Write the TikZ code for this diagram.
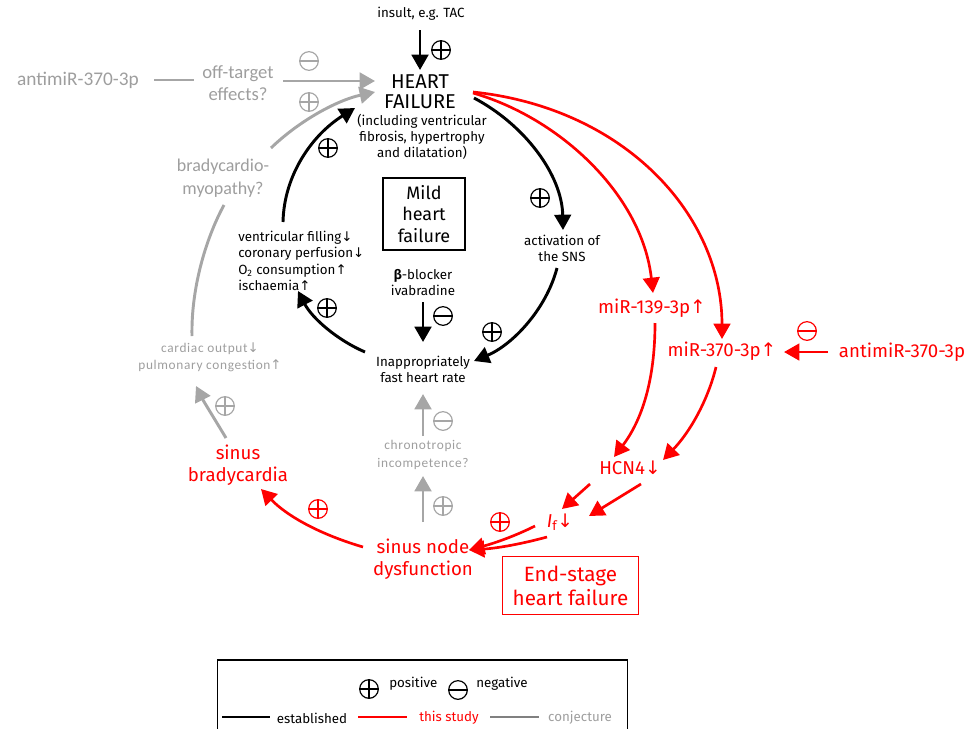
\documentclass[tikz,border=0pt]{standalone}
\usepackage{fontspec}
\setmainfont{Fira Sans}
\newfontfamily\dv{DejaVu Sans}
\newfontfamily\gf{Carlito}
\newfontfamily\gfs[LetterSpace=5]{Carlito}
\usetikzlibrary{arrows.meta}
\definecolor{gry}{HTML}{A6A6A6}
\definecolor{gtx}{HTML}{9E9E9E}
\definecolor{rd}{HTML}{FF0000}
\definecolor{lgy}{HTML}{808080}
\newcommand\fsz[2]{\fontsize{#1}{#2}\selectfont}
\newcommand\upa{{\dv ↑}}
\newcommand\dna{{\dv ↓}}
\begin{document}
\begin{tikzpicture}[x=0.75pt,y=0.75pt,
  txt/.style={inner sep=0pt, align=center},
  arw/.style={-{Triangle[length=11.5pt,width=12.5pt]}},
  blk/.style={line width=2.2pt, black},
  rdl/.style={line width=2pt, rd},
  gyl/.style={line width=2.2pt, gry},
  sgn/.style={circle, draw, line width=0.9pt, minimum size=14pt, inner sep=0pt},
  pl/.style={sgn, path picture={\draw[line width=0.9pt] (path picture bounding box.north)--(path picture bounding box.south) (path picture bounding box.west)--(path picture bounding box.east);}},
  mn/.style={sgn, path picture={\draw[line width=0.9pt] (path picture bounding box.west)--(path picture bounding box.east);}},
  sm/.style={font=\fsz{10}{12}},
  rtx/.style={txt, rd, font=\fsz{14}{16.5}},
  gbig/.style={txt, gtx, font=\gf\fsz{14}{17}},
  gsm/.style={txt, gtx, font=\gfs\fsz{10}{13}}
]
\useasboundingbox (0,0) rectangle (969,-728);

% ---------- black text nodes
\node[txt, sm] (ins) at (421,-14) {insult, e.g. TAC};
\node[txt, font=\fsz{15}{15}] (hf) at (420,-92) {HEART\\FAILURE};
\node[txt, sm] (hfs) at (422,-137) {(including ventricular\\fibrosis, hypertrophy\\and dilatation)};
\node[draw, line width=0.8pt, minimum width=61.5pt, minimum height=54pt, txt, font=\fsz{13.5}{16}] (mhf) at (424,-214) {Mild\\heart\\failure};
\node[txt, sm] (sns) at (562,-248) {activation of\\the SNS};
\node[txt, sm] (bb) at (423,-283) {{\bfseries β}-blocker\\ivabradine};
\node[txt, sm] (ifhr) at (423,-369) {Inappropriately\\fast heart rate};
\node[txt, sm, align=left, anchor=west, font=\fsz{10}{12.4}] (vf) at (238,-261) {ventricular filling\dna\\coronary perfusion\dna\\O\textsubscript{2} consumption\upa\\ischaemia\upa};

% ---------- grey text nodes
\node[gbig, font=\gf\fsz{14.5}{17}] (antL) at (78,-80) {antimiR-370-3p};
\node[gbig] (ote) at (238,-83) {off-target\\effects?};
\node[gbig, font=\gf\fsz{13.5}{17}] (bcm) at (223,-178) {bradycardio-\\myopathy?};
\node[gsm] (co) at (210,-357) {cardiac output\dna\\pulmonary congestion\upa};
\node[gsm] (ci) at (423,-455) {chronotropic\\incompetence?};

% ---------- red text nodes
\node[rtx] (sb) at (238,-465) {sinus\\bradycardia};
\node[rtx] (snd) at (423,-559) {sinus node\\dysfunction};
\node[rtx] (m139) at (652,-308) {miR-139-3p\upa};
\node[rtx] (m370) at (722,-351) {miR-370-3p\upa};
\node[rtx] (antR) at (902,-352) {antimiR-370-3p};
\node[rtx] (hcn) at (630,-468) {HCN4\dna};
\node[rtx] (if) at (560,-522) {\textit{I}\textsubscript{f}\dna};
\node[draw=rd, line width=0.8pt, minimum width=102.5pt, minimum height=43pt, txt, rd, font=\fsz{15.5}{18}] (esh) at (570.5,-585.5) {End-stage\\heart failure};

% ---------- connector end points
\coordinate (insB) at (420,-30);   \coordinate (hfT) at (420,-70);
\coordinate (hfR1) at (474,-98);   \coordinate (snsT) at (563,-230);
\coordinate (snsB) at (557,-268);  \coordinate (ifhrR) at (474,-361);
\coordinate (ifhrL) at (365,-352); \coordinate (vfR) at (298,-291);
\coordinate (vfT) at (283,-222);   \coordinate (hfL) at (355,-108);
\coordinate (bbB) at (423,-302);   \coordinate (ifhrT) at (423,-342);
\coordinate (antLR) at (154,-80);  \coordinate (oteL) at (194,-80);
\coordinate (oteR) at (283,-81);   \coordinate (hfW1) at (375,-81);
\coordinate (bcmT) at (271,-148);  \coordinate (hfW2) at (375,-92);
\coordinate (bcmB) at (224,-205);  \coordinate (coT) at (192,-336);
\coordinate (sbT) at (226,-438);   \coordinate (coB) at (196,-386);
\coordinate (sndL) at (363,-547);  \coordinate (sbB) at (261,-489);
\coordinate (sndT) at (423,-522);  \coordinate (ciB) at (423,-476);
\coordinate (ciT) at (423,-436);   \coordinate (ifhrB) at (423,-394);
\coordinate (hfR2) at (473,-93);   \coordinate (m139T) at (653,-293);
\coordinate (hfR3) at (473,-92);   \coordinate (m370T) at (722,-339);
\coordinate (antRL) at (828,-352); \coordinate (m370R) at (784,-352);
\coordinate (m139B) at (655,-323); \coordinate (hcnT1) at (614,-457);
\coordinate (m370B) at (716,-367); \coordinate (hcnT2) at (663,-460);
\coordinate (hcnB1) at (590,-484); \coordinate (ifT1) at (562,-509);
\coordinate (hcnB2) at (641,-484); \coordinate (ifT2) at (589,-516);
\coordinate (ifL1) at (535,-526);  \coordinate (ifL2) at (547,-537);
\coordinate (sndR) at (469,-550);

% ---------- black connectors
\draw[blk, arw] (insB) -- (hfT);
\draw[blk, arw] (hfR1) .. controls (525,-125) and (562,-175) .. (snsT);
\draw[blk, arw] (snsB) .. controls (546,-310) and (512,-345) .. (ifhrR);
\draw[blk, arw] (ifhrL) .. controls (337,-340) and (312,-318) .. (vfR);
\draw[blk, arw] (vfT) .. controls (284,-175) and (312,-135) .. (hfL);
\draw[blk, arw] (bbB) -- (ifhrT);

% ---------- grey connectors
\draw[gyl] (antLR) -- (oteL);
\draw[gyl, arw] (oteR) -- (hfW1);
\draw[gyl, arw] (bcmT) .. controls (300,-120) and (338,-100) .. (hfW2);
\draw[gyl] (bcmB) .. controls (205,-240) and (191,-290) .. (coT);
\draw[gyl, arw] (sbT) .. controls (214,-418) and (204,-402) .. (coB);
\draw[gyl, arw] (sndT) -- (ciB);
\draw[gyl, arw] (ciT) -- (ifhrB);

% ---------- red connectors
\draw[rdl, arw] (hfR2) .. controls (560,-118) and (642,-195) .. (m139T);
\draw[rdl, arw] (hfR3) .. controls (625,-108) and (722,-215) .. (m370T);
\draw[rdl, arw] (antRL) -- (m370R);
\draw[rdl, arw] (m139B) .. controls (655,-380) and (642,-420) .. (hcnT1);
\draw[rdl, arw] (m370B) .. controls (708,-400) and (690,-432) .. (hcnT2);
\draw[rdl, arw] (hcnB1) -- (ifT1);
\draw[rdl, arw] (hcnB2) -- (ifT2);
\draw[rdl, arw] (ifL1) .. controls (515,-536) and (495,-543) .. (sndR);
\draw[rdl, arw] (ifL2) .. controls (525,-543) and (500,-548) .. (sndR);
\draw[rdl, arw] (sndL) .. controls (322,-535) and (288,-517) .. (sbB);

% ---------- signs
\node[pl] (s1) at (441,-50) {};
\node[pl] (s2) at (540,-198) {};
\node[pl] (s3) at (492,-332) {};
\node[pl] (s4) at (327,-308) {};
\node[pl] (s5) at (328,-148) {};
\node[mn] (s6) at (443,-316) {};
\node[mn, gry] (s7) at (309,-61) {};
\node[pl, gry] (s8) at (309,-102) {};
\node[pl, gry] (s9) at (225,-406) {};
\node[pl, gry] (s10) at (443,-506) {};
\node[mn, gry] (s11) at (443,-421) {};
\node[pl, rd] (s12) at (318,-509) {};
\node[pl, rd] (s13) at (500,-522) {};
\node[mn, rd] (s14) at (807,-331) {};

% ---------- legend
\node[draw, line width=0.8pt, minimum width=308pt, minimum height=60pt, inner sep=0pt] (leg) at (422.5,-700) {};
\node[pl] (lp) at (369,-689) {};
\node[txt, font=\fsz{10}{11}, anchor=west] (lpt) at (389,-684) {positive};
\node[mn] (lm) at (458,-690) {};
\node[txt, font=\fsz{10}{11}, anchor=west] (lmt) at (476,-684) {negative};
\coordinate (lb1) at (222,-717); \coordinate (lb2) at (270,-717);
\coordinate (lr1) at (358,-717); \coordinate (lr2) at (407,-717);
\coordinate (lg1) at (490,-717); \coordinate (lg2) at (539,-717);
\draw[blk] (lb1) -- (lb2);
\draw[rdl, line width=2.2pt] (lr1) -- (lr2);
\draw[line width=2.2pt, lgy] (lg1) -- (lg2);
\node[txt, font=\fsz{10}{11}] (lbt) at (312,-718) {established};
\node[txt, rd, font=\fsz{10}{11}] (lrt) at (449,-718) {this study};
\node[txt, gtx, font=\fsz{10}{11}] (lgt) at (580,-718) {conjecture};
\end{tikzpicture}
\end{document}
